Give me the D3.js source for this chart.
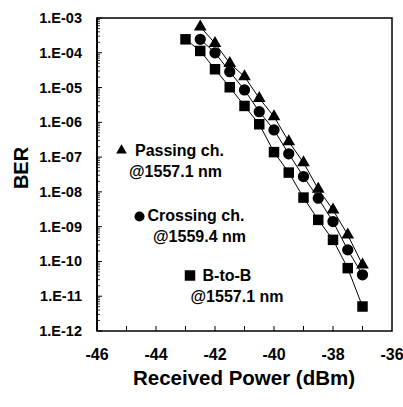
<!DOCTYPE html>
<html><head><meta charset="utf-8">
<script src="https://cdn.jsdelivr.net/npm/d3@7"></script>
<style>body{margin:0;background:#fff}svg{display:block}text{font-family:"Liberation Sans",Arial,sans-serif;font-weight:bold;fill:#000}</style>
</head><body><div id="c"></div>
<script>
const powerB2B = [-43,-42.5,-42,-41.5,-41,-40.5,-40,-39.5,-39,-38.5,-38,-37.5,-37];
const berB2B = [2.44e-4,1.13e-4,3.36e-5,1.02e-5,2.96e-6,8.8e-7,1.39e-7,3.59e-8,6.86e-9,1.57e-9,4.18e-10,6.41e-11,5.06e-12];
const powerCross = [-42.5,-42,-41.5,-41,-40.5,-40,-39.5,-39,-38.5,-38,-37.5,-37];
const berCross = [2.44e-4,1.0e-4,2.86e-5,8.53e-6,2.03e-6,6.05e-7,1.24e-7,2.75e-8,6.59e-9,1.40e-9,2.15e-10,4.12e-11];
const powerPass = [-42.5,-42,-41.5,-41,-40.5,-40,-39.5,-39,-38.5,-38,-37.5,-37];
const berPass = [5.6e-4,1.87e-4,4.99e-5,2.06e-5,4.93e-6,1.46e-6,2.79e-7,6.95e-8,1.20e-8,3.04e-9,5.81e-10,7.98e-11];
const xTicks = [-46,-44,-42,-40,-38,-36];
const yTickExps = [-3,-4,-5,-6,-7,-8,-9,-10,-11,-12];
const yTickLabels = ["1.E-03","1.E-04","1.E-05","1.E-06","1.E-07","1.E-08","1.E-09","1.E-10","1.E-11","1.E-12"];

const W=403,H=407, L=97, R=392, T=18, B=331;
const svg=d3.select("#c").append("svg").attr("width",W).attr("height",H);
const x=d3.scaleLinear().domain([-46,-36]).range([L,R]);
const y=d3.scaleLog().domain([1e-12,1e-3]).range([B,T]);

// minor ticks y
const minor=[];
for(let e=-12;e<-3;e++){for(let m=2;m<=9;m++)minor.push(m*Math.pow(10,e));}
svg.append("g").selectAll("line").data(minor).join("line")
 .attr("x1",L).attr("x2",L+3).attr("y1",d=>y(d)).attr("y2",d=>y(d)).attr("stroke","#000").attr("stroke-width",0.8);
svg.append("g").selectAll("line").data(yTickExps.map(e=>Math.pow(10,e))).join("line")
 .attr("x1",L).attr("x2",L+5).attr("y1",d=>y(d)).attr("y2",d=>y(d)).attr("stroke","#000").attr("stroke-width",1);
// x ticks
svg.append("g").selectAll("line").data(d3.range(-45,-36,1)).join("line")
 .attr("x1",d=>x(d)).attr("x2",d=>x(d)).attr("y1",B).attr("y2",B-5).attr("stroke","#000").attr("stroke-width",1);

// frame
svg.append("rect").attr("x",L).attr("y",T).attr("width",R-L).attr("height",B-T).attr("fill","none").attr("stroke","#000").attr("stroke-width",1.5);
svg.append("line").attr("x1",L).attr("x2",L).attr("y1",T).attr("y2",B).attr("stroke","#000").attr("stroke-width",2);

// tick labels
svg.append("g").selectAll("text").data(yTickExps).join("text")
 .attr("x",82).attr("y",e=>y(Math.pow(10,e))+5).attr("text-anchor","end").attr("font-size",14.5)
 .text((e,i)=>yTickLabels[i]);
svg.append("g").selectAll("text").data(xTicks).join("text")
 .attr("x",d=>x(d)).attr("y",360).attr("text-anchor","middle").attr("font-size",16)
 .text(d=>d);

// titles
svg.append("text").attr("transform","translate(28,168) rotate(-90)").attr("text-anchor","middle").attr("font-size",20).text("BER");
svg.append("text").attr("x",244).attr("y",385).attr("text-anchor","middle").attr("font-size",20.5).text("Received Power (dBm)");

// series
const line=d3.line().x(d=>x(d[0])).y(d=>y(d[1]));
const series=[
 {p:powerB2B,b:berB2B,sym:d3.symbolSquare,size:110},
 {p:powerCross,b:berCross,sym:d3.symbolCircle,size:100},
 {p:powerPass,b:berPass,sym:d3.symbolTriangle,size:70}
];
series.forEach(s=>{
 const pts=s.p.map((v,i)=>[v,s.b[i]]);
 svg.append("path").attr("d",line(pts)).attr("fill","none").attr("stroke","#000").attr("stroke-width",1);
});
series.forEach(s=>{
 const pts=s.p.map((v,i)=>[v,s.b[i]]);
 svg.append("g").selectAll("path").data(pts).join("path")
  .attr("transform",d=>`translate(${x(d[0])},${y(d[1])})`)
  .attr("d",d3.symbol().type(s.sym).size(s.size)).attr("fill","#000");
});

// legend
const leg=svg.append("g");
leg.append("path").attr("transform","translate(121.5,150.5)").attr("d",d3.symbol().type(d3.symbolTriangle).size(50)).attr("fill","#000");
leg.append("text").attr("x",135).attr("y",156).attr("font-size",16).text("Passing ch.");
leg.append("text").attr("x",129).attr("y",177).attr("font-size",16).text("@1557.1 nm");
leg.append("path").attr("transform","translate(139.5,216.5)").attr("d",d3.symbol().type(d3.symbolCircle).size(80)).attr("fill","#000");
leg.append("text").attr("x",147.5).attr("y",221).attr("font-size",16).text("Crossing ch.");
leg.append("text").attr("x",153).attr("y",242).attr("font-size",16).text("@1559.4 nm");
leg.append("path").attr("transform","translate(190,275.5)").attr("d",d3.symbol().type(d3.symbolSquare).size(110)).attr("fill","#000");
leg.append("text").attr("x",202.5).attr("y",281).attr("font-size",16).text("B-to-B");
leg.append("text").attr("x",190.5).attr("y",301.5).attr("font-size",16).text("@1557.1 nm");
</script></body></html>
